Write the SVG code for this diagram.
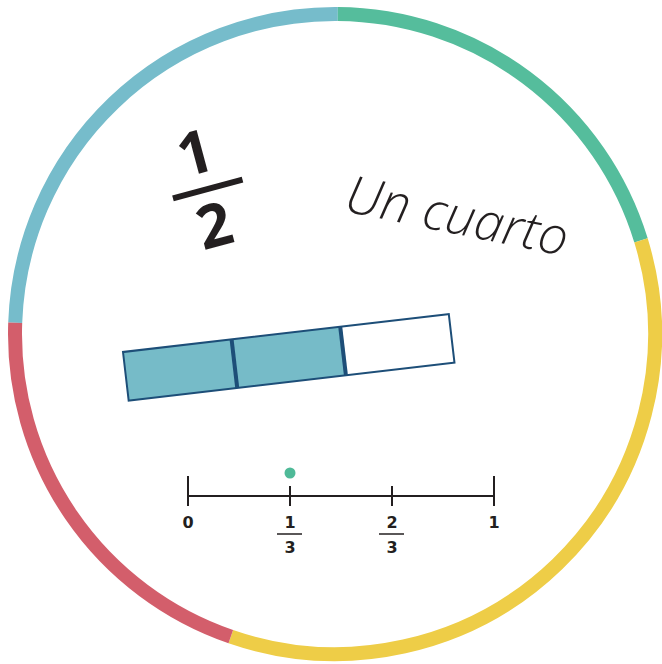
<svg xmlns="http://www.w3.org/2000/svg" width="662" height="664" viewBox="0 0 662 664">
<style>
.ring{fill:none;stroke-width:14}
.big{font-family:"Open Sans","Liberation Sans",sans-serif;font-weight:700;font-size:60px;fill:#231f20;text-anchor:middle}
.lbl{font-family:"DejaVu Sans","Liberation Sans",sans-serif;font-weight:700;font-size:16px;fill:#231f20;text-anchor:middle}
.ax{stroke:#231f20;stroke-width:2;fill:none}
.bar{stroke:#1d4e78;stroke-width:2}
</style>
<rect width="662" height="664" fill="#ffffff"/>
<g id="ring">
<path class="ring" stroke="#76bccb" d="M15.2,322.8 A320,320 0 0 1 337.8,14.0"/>
<path class="ring" stroke="#55bd9c" d="M337.8,14.0 A320,320 0 0 1 641.0,240.4"/>
<path class="ring" stroke="#eecd47" d="M641.0,240.4 A320,320 0 0 1 230.8,636.6"/>
<path class="ring" stroke="#d35e6b" d="M230.8,636.6 A320,320 0 0 1 15.2,322.8"/>
</g>
<g id="fraction-half" transform="translate(208,190) rotate(-15)">
<text class="big" x="-3" y="-18">1</text>
<line x1="-36" y1="-1" x2="36" y2="-1" stroke="#231f20" stroke-width="6"/>
<text class="big" x="-3" y="57">2</text>
</g>
<g id="word">
<text transform="translate(343,211) rotate(11.5)" font-family="'Open Sans','Liberation Sans',sans-serif" font-weight="300" font-style="italic" font-size="52" fill="#231f20">Un cuarto</text>
</g>
<g id="bar-model" transform="translate(123,352) rotate(-6.65)">
<rect x="0" y="0" width="219" height="49" fill="#76bbc8"/>
<rect class="bar" x="0" y="0" width="328" height="49" fill="none"/>
<line x1="109.3" y1="0" x2="109.3" y2="49" stroke="#1d4e78" stroke-width="4"/>
<line x1="218.7" y1="0" x2="218.7" y2="49" stroke="#1d4e78" stroke-width="4"/>
</g>
<g id="number-line">
<line class="ax" x1="188" y1="496" x2="494" y2="496"/>
<line class="ax" x1="188" y1="476" x2="188" y2="506"/>
<line class="ax" x1="494" y1="476" x2="494" y2="506"/>
<line class="ax" x1="290" y1="486" x2="290" y2="506"/>
<line class="ax" x1="392" y1="486" x2="392" y2="506"/>
<circle cx="290" cy="473" r="5.5" fill="#4fba98"/>
<text class="lbl" x="188" y="528">0</text>
<text class="lbl" x="494" y="528">1</text>
<text class="lbl" x="290" y="528">1</text>
<line x1="277" y1="534" x2="302" y2="534" stroke="#231f20" stroke-width="1.5"/>
<text class="lbl" x="290" y="553">3</text>
<text class="lbl" x="392" y="528">2</text>
<line x1="379" y1="534" x2="404" y2="534" stroke="#231f20" stroke-width="1.5"/>
<text class="lbl" x="392" y="553">3</text>
</g>
</svg>
